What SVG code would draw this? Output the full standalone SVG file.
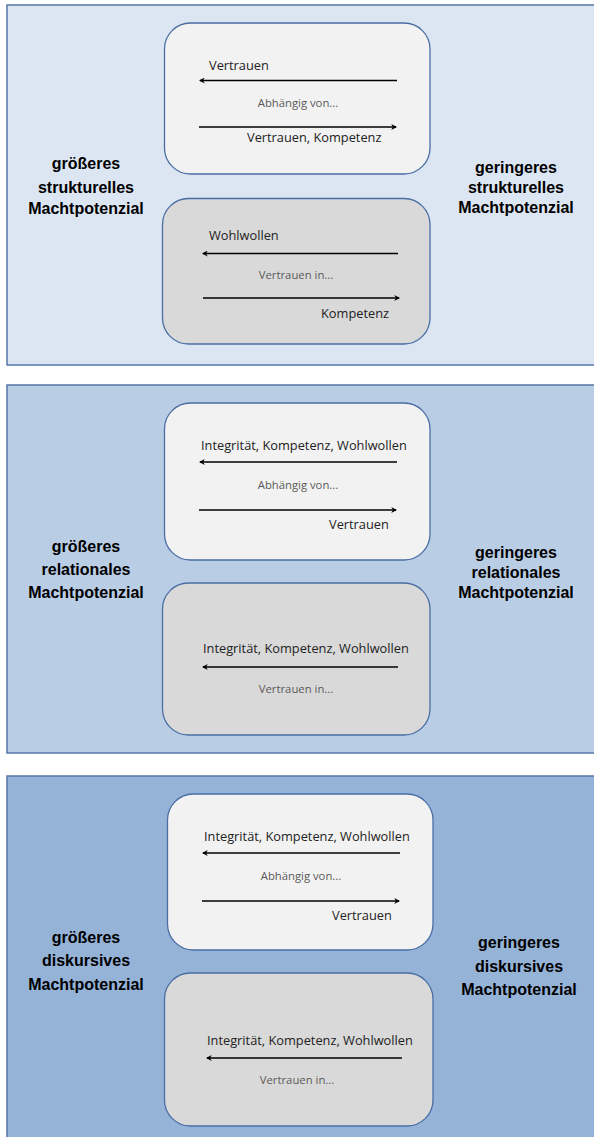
<svg xmlns="http://www.w3.org/2000/svg" width="594" height="1137" viewBox="0 0 594 1137">
<style>
.panel{stroke:#5776a6;stroke-width:1.5}
.box{stroke:#4a6ea4;stroke-width:1.3}
.light{fill:#f2f2f2}
.dark{fill:#d9d9d9}
.side{font-family:"Liberation Sans",Arial,sans-serif;font-weight:bold;font-size:16px;fill:#000;text-anchor:middle}
.lbl{font-family:"Open Sans",sans-serif;font-size:12.8px;fill:#222}
.sub{font-family:"Open Sans",sans-serif;font-size:11.3px;fill:#595959;text-anchor:middle}
.arr{stroke:#000;stroke-width:1.5;fill:none;marker-end:url(#ah)}
</style>
<defs>
<marker id="ah" viewBox="0 0 10 10" refX="8" refY="5" markerWidth="6" markerHeight="6" markerUnits="userSpaceOnUse" orient="auto">
<path d="M0,0 L10,5 L0,10 L3,5 z" fill="#000"/>
</marker>
</defs>
<rect width="594" height="1137" fill="#ffffff"/>

<g id="panel1">
<rect class="panel" x="7" y="5" width="600" height="360" fill="#dce6f2"/>
<text class="side" x="86" y="169">größeres</text>
<text class="side" x="86" y="193">strukturelles</text>
<text class="side" x="86" y="214">Machtpotenzial</text>
<text class="side" x="516" y="173">geringeres</text>
<text class="side" x="516" y="193">strukturelles</text>
<text class="side" x="516" y="213">Machtpotenzial</text>
</g>
<g id="box1">
<rect class="box light" x="164.5" y="23" width="265.5" height="151" rx="26"/>
<text class="lbl" x="209" y="70">Vertrauen</text>
<text class="sub" x="298" y="107">Abhängig von...</text>
<text class="lbl" x="247" y="142">Vertrauen, Kompetenz</text>
</g>
<g id="box2">
<rect class="box dark" x="162.5" y="198.5" width="267.5" height="145.5" rx="26"/>
<text class="lbl" x="209" y="240">Wohlwollen</text>
<text class="sub" x="296" y="279">Vertrauen in...</text>
<text class="lbl" x="321" y="318">Kompetenz</text>
</g>

<g id="panel2">
<rect class="panel" x="7" y="385" width="600" height="368" fill="#b9cde5"/>
<text class="side" x="86" y="552">größeres</text>
<text class="side" x="86" y="575">relationales</text>
<text class="side" x="86" y="598">Machtpotenzial</text>
<text class="side" x="516" y="558">geringeres</text>
<text class="side" x="516" y="578">relationales</text>
<text class="side" x="516" y="598">Machtpotenzial</text>
</g>
<g id="box3">
<rect class="box light" x="164.5" y="403" width="265.5" height="157" rx="26"/>
<text class="lbl" x="201" y="450">Integrität, Kompetenz, Wohlwollen</text>
<text class="sub" x="298" y="489">Abhängig von...</text>
<text class="lbl" x="329" y="529">Vertrauen</text>
</g>
<g id="box4">
<rect class="box dark" x="162.5" y="583" width="267.5" height="152" rx="26"/>
<text class="lbl" x="203" y="653">Integrität, Kompetenz, Wohlwollen</text>
<text class="sub" x="296" y="693">Vertrauen in...</text>
</g>

<g id="panel3">
<rect class="panel" x="7" y="776" width="600" height="370" fill="#95b3d7"/>
<text class="side" x="86" y="943">größeres</text>
<text class="side" x="86" y="966">diskursives</text>
<text class="side" x="86" y="990">Machtpotenzial</text>
<text class="side" x="519" y="948">geringeres</text>
<text class="side" x="519" y="972">diskursives</text>
<text class="side" x="519" y="995">Machtpotenzial</text>
</g>
<g id="box5">
<rect class="box light" x="167.5" y="794" width="265.5" height="156" rx="26"/>
<text class="lbl" x="204" y="841">Integrität, Kompetenz, Wohlwollen</text>
<text class="sub" x="301" y="880">Abhängig von...</text>
<text class="lbl" x="332" y="920">Vertrauen</text>
</g>
<g id="box6">
<rect class="box dark" x="164.5" y="973" width="268.5" height="153" rx="26"/>
<text class="lbl" x="207" y="1045">Integrität, Kompetenz, Wohlwollen</text>
<text class="sub" x="297" y="1084">Vertrauen in...</text>
</g>

<g id="connectors">
<line class="arr" x1="397" y1="80.5" x2="200" y2="80.5"/>
<line class="arr" x1="199" y1="127" x2="396" y2="127"/>
<line class="arr" x1="398" y1="253.5" x2="203" y2="253.5"/>
<line class="arr" x1="203" y1="298" x2="399" y2="298"/>
<line class="arr" x1="397" y1="462" x2="200" y2="462"/>
<line class="arr" x1="199" y1="510" x2="396" y2="510"/>
<line class="arr" x1="398" y1="667" x2="203" y2="667"/>
<line class="arr" x1="400" y1="853" x2="203" y2="853"/>
<line class="arr" x1="202" y1="901" x2="399" y2="901"/>
<line class="arr" x1="402" y1="1058" x2="207" y2="1058"/>
</g>
</svg>
